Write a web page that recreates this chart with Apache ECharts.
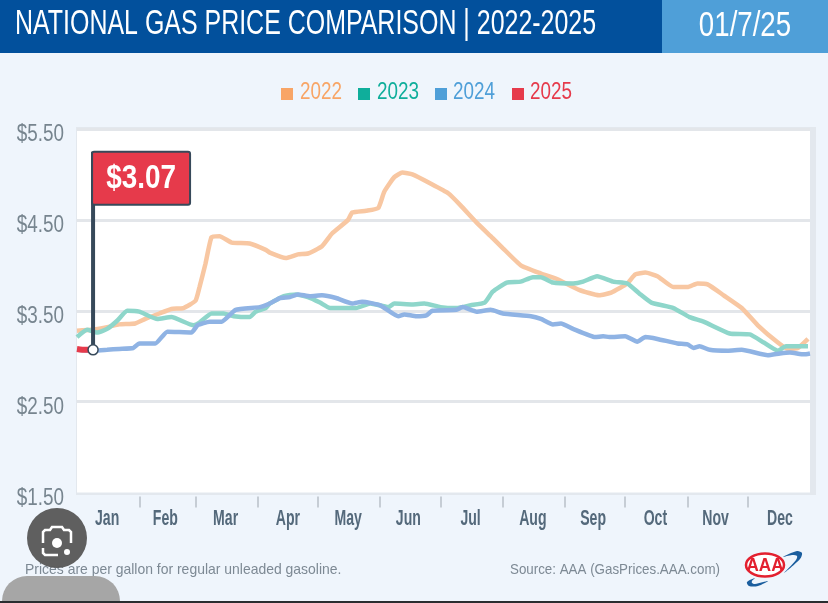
<!DOCTYPE html>
<html>
<head>
<meta charset="utf-8">
<style>html,body{margin:0;padding:0;background:#eff5fc}#chart{width:828px;height:603px}</style>
<script src="https://cdn.jsdelivr.net/npm/echarts@6/dist/echarts.min.js"></script>
</head>
<body>
<div id="chart"></div>
<script>
// National average prices, as [day of year, dollars per gallon]
const prices2022 = [[0,3.28],[7,3.29],[15,3.32],[21,3.35],[29,3.36],[34,3.41],[41,3.47],[47,3.52],[53,3.53],[59,3.61],[61,3.76],[64,4.02],[67,4.31],[71,4.32],[77,4.25],[86,4.24],[94,4.17],[96,4.14],[104,4.08],[110,4.12],[115,4.13],[122,4.21],[127,4.35],[135,4.50],[137,4.58],[144,4.60],[150,4.63],[153,4.81],[158,4.97],[162,5.02],[167,5.00],[176,4.90],[185,4.79],[191,4.66],[199,4.47],[207,4.30],[212,4.19],[221,4.00],[231,3.91],[239,3.85],[250,3.73],[260,3.67],[266,3.70],[274,3.80],[278,3.90],[283,3.92],[289,3.88],[297,3.76],[304,3.76],[309,3.80],[314,3.79],[322,3.67],[331,3.53],[339,3.34],[349,3.15],[354,3.08],[359,3.09],[364,3.19]];
const prices2023 = [[0,3.21],[5,3.29],[10,3.26],[15,3.30],[20,3.39],[25,3.50],[31,3.49],[40,3.41],[47,3.43],[58,3.34],[61,3.37],[67,3.47],[73,3.47],[78,3.44],[86,3.43],[89,3.49],[94,3.53],[96,3.58],[103,3.66],[109,3.68],[115,3.65],[121,3.59],[126,3.53],[139,3.53],[146,3.58],[155,3.54],[158,3.58],[167,3.57],[173,3.58],[181,3.54],[189,3.53],[196,3.56],[203,3.59],[207,3.71],[214,3.81],[221,3.82],[227,3.87],[231,3.87],[237,3.81],[247,3.80],[252,3.82],[259,3.88],[267,3.82],[274,3.80],[280,3.69],[286,3.59],[297,3.53],[305,3.43],[312,3.38],[325,3.25],[335,3.24],[342,3.15],[349,3.06],[353,3.11],[364,3.11]];
const prices2024 = [[0,3.07],[9,3.06],[15,3.07],[21,3.08],[28,3.09],[31,3.14],[39,3.14],[45,3.27],[57,3.26],[60,3.34],[66,3.38],[72,3.38],[79,3.51],[91,3.54],[96,3.58],[101,3.64],[106,3.65],[110,3.68],[116,3.66],[122,3.67],[129,3.64],[137,3.58],[142,3.60],[151,3.56],[160,3.44],[163,3.46],[169,3.44],[174,3.45],[177,3.50],[189,3.51],[192,3.54],[199,3.49],[206,3.51],[212,3.47],[226,3.44],[231,3.41],[237,3.35],[241,3.36],[247,3.30],[258,3.21],[262,3.22],[265,3.21],[273,3.22],[279,3.16],[283,3.21],[289,3.19],[299,3.14],[304,3.13],[307,3.09],[310,3.11],[315,3.07],[324,3.06],[331,3.07],[344,3.01],[350,3.03],[355,3.04],[362,3.02],[365,3.03]];
const prices2025 = [[0,3.08],[4,3.07],[8,3.07]];

const years = ['2022', '2023', '2024', '2025'];
const months = ['Jan','Feb','Mar','Apr','May','Jun','Jul','Aug','Sep','Oct','Nov','Dec'];
const monthEnds = [31,59,90,120,151,181,212,243,273,304,334];
const monthMiddles = [15,44,74,105,135,165,196,227,257,288,318,350];
const priceTicks = [1.5,2.5,3.5,4.5,5.5];
const gridPrices = [2.5,3.5,4.5,5.5];
const flagTopPrice = 5.25;

const FONT = '"Liberation Sans",sans-serif';
const yearSeries = [prices2022, prices2023, prices2024, prices2025];
const swatchColors = ['#f8a566', '#0fae9b', '#4f9fd8', '#e63a4b'];
const lineColors = ['#f8c7a2', '#8ed6ca', '#8fb3e4', '#e63a4b'];
const poleColor = '#37495a';
const current = prices2025[prices2025.length - 1];

const lineSeries = years.map((name, i) => ({
  name,
  type: 'line',
  data: yearSeries[i],
  symbol: 'none',
  smooth: 0.15,
  z: 3 + i,
  color: swatchColors[i],
  lineStyle: { color: lineColors[i], width: i === 3 ? 6 : 4.5, cap: 'butt' }
}));

lineSeries[0].markLine = {
  silent: true, symbol: 'none', z: 1, animation: false,
  label: { show: false },
  lineStyle: { color: '#e3e6ea', width: 3, type: 'solid' },
  data: gridPrices.map(v => ({ yAxis: v }))
};

// Horizontally condensed labels, placed through the axis scales
const narrowText = (x, y, text, scaleX, font, fill, align) => ({
  type: 'text', x, y, scaleX,
  style: { text, font, fill, align: align || 'center', verticalAlign: 'middle' }
});

const priceLabels = {
  type: 'custom', silent: true, z: 12, clip: false,
  data: priceTicks.map(v => [0, v]),
  renderItem: (params, api) => {
    const p = api.coord([0, api.value(1)]);
    return narrowText(p[0] - 13, p[1] + 6, '$' + api.value(1).toFixed(2), 0.82, '23px ' + FONT, '#77858f', 'right');
  }
};

const monthLabels = {
  type: 'custom', silent: true, z: 12, clip: false,
  data: monthMiddles.map((d, i) => [d, 1.5, i]),
  renderItem: (params, api) => {
    const p = api.coord([api.value(0), api.value(1)]);
    return narrowText(p[0], p[1] + 26, months[api.value(2)], 0.64, 'bold 22px ' + FONT, '#54697b');
  }
};

// Flag calling out the latest price, planted on the 2025 line
const priceFlag = {
  type: 'custom', silent: true, z: 14, clip: false,
  data: [[current[0], current[1], flagTopPrice]],
  renderItem: (params, api) => {
    const base = api.coord([api.value(0), api.value(1)]);
    const top = api.coord([api.value(0), api.value(2)]);
    return {
      type: 'group',
      children: [
        { type: 'line', shape: { x1: base[0], y1: base[1], x2: base[0], y2: top[1] }, style: { stroke: poleColor, lineWidth: 4 } },
        { type: 'rect', shape: { x: base[0] - 1, y: top[1], width: 98, height: 53, r: 2 }, style: { fill: '#e63a4b', stroke: poleColor, lineWidth: 2 } },
        narrowText(base[0] + 48, top[1] + 27, '$' + api.value(1).toFixed(2), 0.82, 'bold 34px ' + FONT, '#fff'),
        { type: 'circle', shape: { cx: base[0], cy: base[1], r: 5 }, style: { fill: '#fff', stroke: poleColor, lineWidth: 1.5 } }
      ]
    };
  }
};

const legendTextX = [300, 377, 453, 530];

const option = {
  animation: false,
  backgroundColor: '#eff5fc',
  legend: {
    top: 83, left: 276, icon: 'rect',
    itemWidth: 12, itemHeight: 12, itemGap: 65,
    data: years,
    formatter: () => '',
    selectedMode: false
  },
  grid: {
    show: true, left: 77, right: 18, top: 129, bottom: 110.5,
    backgroundColor: '#fff', borderWidth: 0
  },
  xAxis: {
    type: 'value', min: 0, max: 365, offset: 4,
    splitLine: { show: false },
    axisLine: { show: false },
    axisTick: { show: true, length: 11, customValues: monthEnds, lineStyle: { color: '#b9c0c7', width: 1.5 } },
    axisLabel: { show: false }
  },
  yAxis: {
    type: 'value', min: 1.5, max: 5.5, interval: 0.5,
    splitLine: { show: false },
    axisLine: { show: false },
    axisTick: { show: false },
    axisLabel: { show: false }
  },
  series: lineSeries.concat([priceLabels, monthLabels, priceFlag]),
  graphic: [
    // Frame around the plot
    { type: 'rect', silent: true, z: -1, shape: { x: 76, y: 127, width: 740, height: 368 }, style: { fill: '#e3e8ee' } },
    // Header band
    { type: 'rect', silent: true, z: 10, shape: { x: 0, y: 0, width: 662, height: 53 }, style: { fill: '#02509c' } },
    { type: 'rect', silent: true, z: 10, shape: { x: 662, y: 0, width: 166, height: 53 }, style: { fill: '#4f9fd8' } },
    { type: 'text', silent: true, z: 11, x: 15, y: 24, scaleX: 0.713,
      style: { text: 'NATIONAL GAS PRICE COMPARISON | 2022-2025', fill: '#fff', font: '35px ' + FONT, verticalAlign: 'middle' } },
    { type: 'text', silent: true, z: 11, x: 745, y: 26, scaleX: 0.79,
      style: { text: '01/7/25', fill: '#fff', font: '35px ' + FONT, align: 'center', verticalAlign: 'middle' } },
    // Legend year labels
    ...years.map((name, i) => ({
      type: 'text', silent: true, z: 11, x: legendTextX[i], y: 93, scaleX: 0.82,
      style: { text: name, fill: swatchColors[i], font: '23px ' + FONT, verticalAlign: 'middle' }
    })),
    // Footer notes
    { type: 'text', silent: true, z: 11, x: 25, y: 570, scaleX: 0.93,
      style: { text: 'Prices are per gallon for regular unleaded gasoline.', fill: '#7d8994', font: '15px ' + FONT, verticalAlign: 'middle' } },
    { type: 'text', silent: true, z: 11, x: 510, y: 570, scaleX: 0.89,
      style: { text: 'Source: AAA (GasPrices.AAA.com)', fill: '#7d8994', font: '15px ' + FONT, verticalAlign: 'middle' } },
    // AAA badge
    { type: 'polygon', silent: true, z: 11, shape: { points: [[783,557],[797,551],[802,553],[800,559],[784,573],[796,560],[797,556],[792,555]], smooth: 0.3 }, style: { fill: '#1b5e9e' } },
    { type: 'polygon', silent: true, z: 11, shape: { points: [[755,578],[747,582],[749,586],[758,586],[768,581],[755,584],[752,583],[752,581]], smooth: 0.3 }, style: { fill: '#1b5e9e' } },
    { type: 'ellipse', silent: true, z: 11, shape: { cx: 765, cy: 565, rx: 19, ry: 11.5 }, style: { fill: '#fff', stroke: '#e3202f', lineWidth: 2.5 } },
    { type: 'text', silent: true, z: 12, x: 765, y: 566, scaleX: 0.95,
      style: { text: 'AAA', fill: '#e3202f', font: 'bold 18px ' + FONT, align: 'center', verticalAlign: 'middle' } },
    // Image-search button overlaid on the corner
    { type: 'rect', silent: true, z: 13, shape: { x: 2, y: 576, width: 118, height: 27, r: [25, 25, 0, 0] }, style: { fill: '#a6a6a6' } },
    { type: 'circle', silent: true, z: 13, shape: { cx: 57, cy: 538, r: 30 }, style: { fill: '#565656', opacity: 0.95 } },
    { type: 'polyline', silent: true, z: 14, shape: { points: [[43,543],[43,532],[45,530],[50,530],[52,527],[62,527],[64,530],[69,530],[71,532],[71,543]] }, style: { fill: 'none', stroke: '#fff', lineWidth: 2.5 } },
    { type: 'polyline', silent: true, z: 14, shape: { points: [[43,548],[43,553],[45,555],[58,555]] }, style: { fill: 'none', stroke: '#fff', lineWidth: 2.5 } },
    { type: 'circle', silent: true, z: 14, shape: { cx: 57, cy: 543, r: 5 }, style: { fill: '#fff' } },
    { type: 'circle', silent: true, z: 14, shape: { cx: 67, cy: 552, r: 3 }, style: { fill: '#fff' } },
    // Dark strip along the bottom edge
    { type: 'rect', silent: true, z: 14, shape: { x: 0, y: 601, width: 828, height: 2 }, style: { fill: '#2a2d30' } }
  ]
};

echarts.init(document.getElementById('chart'), null, { renderer: 'canvas' }).setOption(option);
</script>
</body>
</html>
